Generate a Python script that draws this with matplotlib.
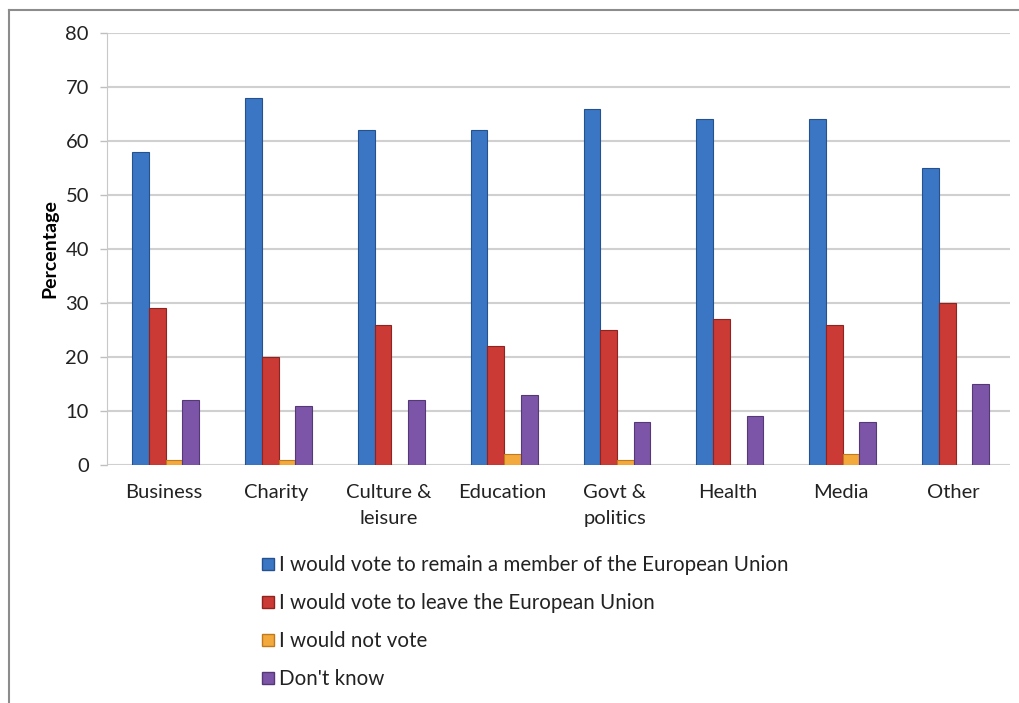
import numpy as np
import matplotlib.pyplot as plt
from matplotlib.lines import Line2D

plt.rcParams['font.family'] = ['Lato', 'DejaVu Sans']

categories = ['Business', 'Charity', 'Culture &\nleisure', 'Education',
              'Govt &\npolitics', 'Health', 'Media', 'Other']
remain = [58, 68, 62, 62, 66, 64, 64, 55]
leave = [29, 20, 26, 22, 25, 27, 26, 30]
not_vote = [1, 1, 0, 2, 1, 0, 2, 0]
dont_know = [12, 11, 12, 13, 8, 9, 8, 15]

series = [
    ('I would vote to remain a member of the European Union', remain, '#3a76c4', '#25528e'),
    ('I would vote to leave the European Union', leave, '#cc3a35', '#8e2320'),
    ('I would not vote', not_vote, '#f3a93c', '#c07a1c'),
    ("Don't know", dont_know, '#7d55a8', '#553878'),
]

fig = plt.figure(figsize=(10.2, 7.03), dpi=100)
ax = fig.add_axes([0.1049, 0.3385, 0.885, 0.6145])

x = np.arange(len(categories))
w = 0.148
for i, (name, vals, col, edge) in enumerate(series):
    ax.bar(x + (i - 1.5) * w + 0.02, vals, w, color=col, edgecolor=edge,
           linewidth=0.8, label=name, zorder=3)

ax.set_xlim(-0.5, len(categories) - 0.5)
ax.set_ylim(0, 80)
ax.set_yticks(range(0, 81, 10))
ax.tick_params(axis='y', labelsize=14.5, length=5, color='#bfbfbf', width=1,
               pad=8, labelcolor='#222222')
ax.set_xticks(x)
ax.set_xticklabels(categories, fontsize=14.5, linespacing=1.6, color='#222222')
ax.tick_params(axis='x', length=0, pad=14)
ax.grid(axis='y', color='#d0d0d0', linewidth=1.5, zorder=0)
for s in ['top', 'right', 'bottom']:
    ax.spines[s].set_visible(False)
ax.spines['left'].set_color('#c8c8c8')
ax.set_ylabel('Percentage', fontsize=14, fontweight='bold', labelpad=5)

# legend, stacked vertically below chart
handles = [Line2D([], [], marker='s', linestyle='none', markersize=8,
                  markerfacecolor=c, markeredgecolor=e) for _, _, c, e in series]
leg = fig.legend(handles, [s[0] for s in series], loc='upper left',
                 bbox_to_anchor=(0.245, 0.222), frameon=False, fontsize=14.8,
                 handletextpad=0.0, labelspacing=0.88, handlelength=1.0,
                 borderaxespad=0)
for t in leg.get_texts():
    t.set_color('#222222')

# outer frame (top and left edges visible)
fig.add_artist(Line2D([0.009, 1.0], [0.986, 0.986], transform=fig.transFigure,
                      color='#8c8c8c', linewidth=1.5))
fig.add_artist(Line2D([0.009, 0.009], [0.0, 0.986], transform=fig.transFigure,
                      color='#8c8c8c', linewidth=1.5))

fig.savefig('out.png', dpi=100)
